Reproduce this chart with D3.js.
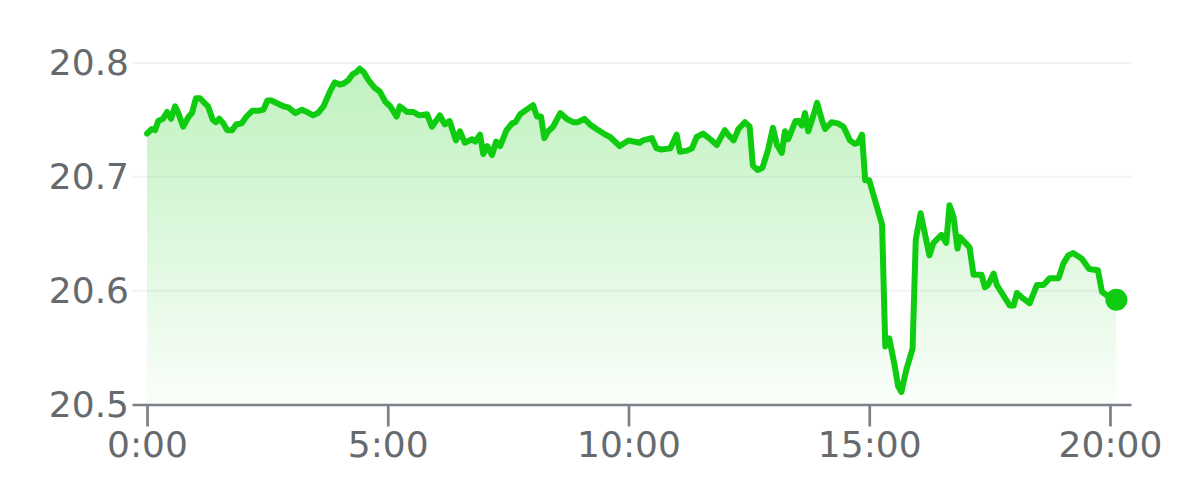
<!DOCTYPE html>
<html>
<head>
<meta charset="utf-8">
<script src="https://cdn.jsdelivr.net/npm/d3@7"></script>
<style>
  html, body { margin: 0; padding: 0; background: #ffffff; }
  svg { display: block; }
  .tick text { font-family: "DejaVu Sans", sans-serif; font-size: 36px; fill: #666a6e; }
</style>
</head>
<body>
<svg id="chart" width="1179" height="499"></svg>
<script>
// minutes since 0:00
const minutes = [0,6,10,14,20,25,30,35,39,45,52,56,61,66,76,82,86,90,95,100,106,111,118,124,131,139,145,150,155,164,170,176,185,193,199,207,213,220,228,234,240,245,251,256,261,265,270,276,284,290,297,303,311,315,324,332,339,349,355,365,371,377,385,390,396,405,409,415,419,424,430,435,440,448,455,459,465,473,481,486,491,495,500,506,515,523,531,537,545,552,560,569,577,583,589,600,606,614,618,629,635,641,652,660,664,673,679,685,693,702,710,720,724,731,737,745,751,755,761,767,774,780,785,791,795,799,808,812,816,820,824,830,835,841,845,853,861,868,876,882,886,891,895,900,916,920,925,932,936,940,946,954,958,964,975,980,990,996,1000,1005,1010,1013,1025,1030,1040,1044,1048,1055,1059,1067,1075,1080,1084,1092,1100,1109,1117,1125,1136,1142,1148,1154,1165,1174,1185,1190,1196,1208];
const prices = [20.738,20.742,20.741,20.749,20.751,20.757,20.751,20.762,20.756,20.744,20.753,20.756,20.769,20.769,20.762,20.750,20.748,20.751,20.747,20.741,20.741,20.746,20.747,20.753,20.758,20.758,20.759,20.767,20.767,20.764,20.762,20.761,20.756,20.759,20.757,20.754,20.756,20.762,20.775,20.783,20.781,20.782,20.785,20.790,20.792,20.795,20.792,20.785,20.778,20.775,20.766,20.762,20.753,20.762,20.757,20.757,20.754,20.755,20.744,20.754,20.746,20.749,20.732,20.740,20.730,20.733,20.731,20.737,20.720,20.727,20.719,20.731,20.727,20.741,20.747,20.748,20.755,20.759,20.763,20.753,20.753,20.734,20.740,20.744,20.756,20.751,20.748,20.748,20.751,20.746,20.742,20.738,20.735,20.731,20.727,20.732,20.731,20.730,20.732,20.734,20.725,20.724,20.725,20.737,20.722,20.723,20.725,20.735,20.738,20.733,20.728,20.741,20.737,20.732,20.742,20.748,20.744,20.710,20.706,20.708,20.724,20.743,20.728,20.721,20.740,20.733,20.749,20.749,20.745,20.756,20.740,20.753,20.765,20.750,20.742,20.748,20.747,20.744,20.732,20.729,20.730,20.737,20.697,20.697,20.658,20.551,20.558,20.533,20.516,20.511,20.530,20.549,20.645,20.668,20.631,20.642,20.649,20.642,20.675,20.665,20.637,20.647,20.638,20.614,20.614,20.603,20.605,20.615,20.605,20.596,20.587,20.587,20.598,20.593,20.589,20.605,20.605,20.611,20.611,20.624,20.631,20.633,20.628,20.619,20.618,20.599,20.596,20.592];
const xTicks = [0, 300, 600, 900, 1200];
const yTicks = [20.5, 20.6, 20.7, 20.8];
const xLabels = ["0:00", "5:00", "10:00", "15:00", "20:00"];

const data = minutes.map((m, i) => ({ m, v: prices[i] }));
const svg = d3.select("#chart");
const green = "#10cc10";

const x = d3.scaleLinear().domain([-18.7, 1226.2]).range([132, 1131]);
const y = d3.scaleLinear().domain([20.5, 20.8]).range([404.5, 63]);

// gradient
const defs = svg.append("defs");
const grad = defs.append("linearGradient").attr("id", "fillGrad")
  .attr("gradientUnits", "userSpaceOnUse")
  .attr("x1", 0).attr("y1", y(20.8)).attr("x2", 0).attr("y2", y(20.5));
grad.append("stop").attr("offset", "0%").attr("stop-color", green).attr("stop-opacity", 0.27);
grad.append("stop").attr("offset", "100%").attr("stop-color", green).attr("stop-opacity", 0.02);

// gridlines
svg.append("g").selectAll("line").data(yTicks.filter(t => t > 20.5)).join("line")
  .attr("x1", x.range()[0]).attr("x2", x.range()[1])
  .attr("y1", d => y(d)).attr("y2", d => y(d))
  .attr("stroke", "#f2f3f3").attr("stroke-width", 2);

// area
svg.append("path").datum(data)
  .attr("fill", "url(#fillGrad)")
  .attr("d", d3.area().x(d => x(d.m)).y0(y(20.5)).y1(d => y(d.v)));

// y axis labels
const yAxis = svg.append("g").attr("transform", `translate(${x.range()[0]},0)`)
  .call(d3.axisLeft(y).tickValues(yTicks).tickSize(0).tickPadding(3).tickFormat(d3.format(".1f")));
yAxis.select(".domain").remove();

// x axis
const xAxis = svg.append("g").attr("transform", `translate(0,${y(20.5)})`)
  .call(d3.axisBottom(x).tickValues(xTicks).tickSize(22).tickSizeOuter(0).tickPadding(5)
    .tickFormat((d, i) => xLabels[i]));
xAxis.select(".domain").attr("stroke", "#7b8188").attr("stroke-width", 2.7);
xAxis.selectAll(".tick line").attr("stroke", "#7b8188").attr("stroke-width", 2.7);

// line
svg.append("path").datum(data)
  .attr("fill", "none").attr("stroke", green).attr("stroke-width", 6)
  .attr("stroke-linejoin", "round").attr("stroke-linecap", "round")
  .attr("d", d3.line().x(d => x(d.m)).y(d => y(d.v)));

// end dot
const last = data[data.length - 1];
svg.append("circle").attr("cx", x(last.m)).attr("cy", y(last.v)).attr("r", 11).attr("fill", green);
</script>
</body>
</html>
